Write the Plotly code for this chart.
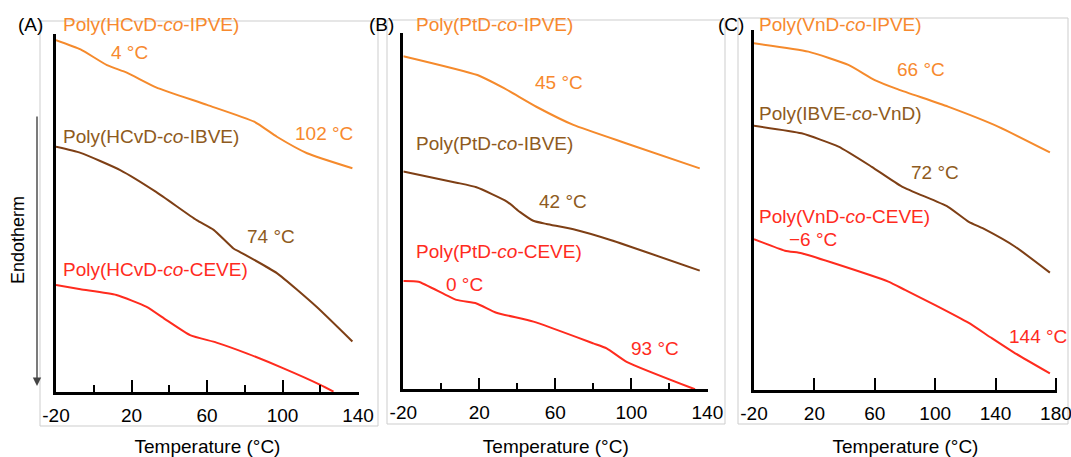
import plotly.graph_objects as go

# ---- DSC heating traces (temperature in °C, heat flow in arbitrary units, endotherm down) ----
# (A) Poly(HCvD-co-...) copolymers
A_IPVE_T = [-20, -7, 7, 17.5, 33, 60, 85, 97, 113, 137]
A_IPVE_HF = [9.83, 9.57, 9.13, 8.92, 8.51, 8.02, 7.55, 7.13, 6.67, 6.25]
A_IBVE_T = [-20, -7, 14, 33, 54.5, 63.5, 74, 77.5, 97, 118, 137]
A_IBVE_HF = [6.85, 6.68, 6.20, 5.59, 4.80, 4.53, 4.01, 3.91, 3.32, 2.38, 1.41]
A_CEVE_T = [-20, -7, 12, 28, 38.5, 51, 65, 81, 100.5, 120, 127]
A_CEVE_HF = [2.99, 2.87, 2.71, 2.38, 2.01, 1.59, 1.38, 1.08, 0.66, 0.20, 0.01]

# (B) Poly(PtD-co-...) copolymers
B_IPVE_T = [-20, 19, 33, 50, 69.5, 97.5, 136]
B_IPVE_HF = [9.35, 8.82, 8.45, 7.93, 7.42, 6.90, 6.20]
B_IBVE_T = [-20, 8, 18.5, 34.5, 41.3, 48.4, 55.4, 69.5, 89, 136]
B_IBVE_HF = [6.11, 5.80, 5.67, 5.27, 4.98, 4.73, 4.64, 4.49, 4.19, 3.33]
B_CEVE_T = [-20, -12, 8, 18.5, 29, 48.5, 80, 87, 97.5, 133.5]
B_CEVE_HF = [3.04, 3.02, 2.51, 2.41, 2.15, 1.90, 1.29, 1.15, 0.77, 0.00]

# (C) Poly(VnD-co-...) copolymers
C_IPVE_T = [-20, 16, 42.5, 60, 75.5, 108.5, 142, 176]
C_IPVE_HF = [9.63, 9.40, 9.03, 8.61, 8.35, 7.87, 7.31, 6.60]
C_IBVE_T = [-20, 11.5, 36, 58, 78, 108.5, 122, 133, 153, 176]
C_IBVE_HF = [7.34, 7.13, 6.76, 6.20, 5.65, 5.09, 4.68, 4.46, 3.98, 3.26]
C_CEVE_T = [-20, 0.5, 11.5, 31.5, 69, 80, 100, 122, 137.5, 153, 176]
C_CEVE_HF = [4.19, 3.87, 3.80, 3.54, 3.01, 2.78, 2.36, 1.87, 1.44, 1.02, 0.46]

# Tick labels
A_TICKS = [-20, 20, 60, 100, 140]
A_MINOR = [0, 40, 80, 120]
B_TICKS = [-20, 20, 60, 100, 140]
B_MINOR = [0, 40, 80, 120]
C_TICKS = [-20, 20, 60, 100, 140, 180]

# Curve names: (text, T, HF) for the lower two, top name sits above the frame
A_TOP = "Poly(HCvD-<i>co</i>-IPVE)"
A_NAMES = [("Poly(HCvD-<i>co</i>-IBVE)", -17.4, 7.15),
           ("Poly(HCvD-<i>co</i>-CEVE)", -17.4, 3.41)]
A_TG = [("4 °C", 8.1, 9.47, "ipve"), ("102 °C", 105.6, 7.21, "ipve"),
        ("74 °C", 80.1, 4.34, "ibve")]
B_TOP = "Poly(PtD-<i>co</i>-IPVE)"
B_NAMES = [("Poly(PtD-<i>co</i>-IBVE)", -14.4, 6.91),
           ("Poly(PtD-<i>co</i>-CEVE)", -14.4, 3.86)]
B_TG = [("45 °C", 48.3, 8.60, "ipve"), ("42 °C", 50.4, 5.27, "ibve"),
        ("0 °C", 1.4, 2.93, "ceve"), ("93 °C", 98.8, 1.15, "ceve")]
C_TOP = "Poly(VnD-<i>co</i>-IPVE)"
C_NAMES = [("Poly(IBVE-<i>co</i>-VnD)", -18.0, 7.69),
           ("Poly(VnD-<i>co</i>-CEVE)", -18.0, 4.81)]
C_TG = [("66 °C", 73.4, 8.89, "ipve"), ("72 °C", 82.6, 6.03, "ibve"),
        ("\u22126 °C", 2.0, 4.19, "ceve"), ("144 °C", 147.5, 1.48, "ceve")]

W, H = 1071, 457
FONT = "Liberation Sans, Arial, Helvetica, sans-serif"
FS = 19

LINE_COL = {"ipve": "#F58A2C", "ibve": "#7E3F15", "ceve": "#FF2B1E"}
TEXT_COL = {"ipve": "#F7892E", "ibve": "#8E5A20", "ceve": "#FF2B1E"}
KEYS = ["ipve", "ibve", "ceve"]


def px_x(p):
    return p / W


def px_y(p):
    return 1 - p / H


fig = go.Figure()

panels = [
    ("x", "y", [(A_IPVE_T, A_IPVE_HF), (A_IBVE_T, A_IBVE_HF), (A_CEVE_T, A_CEVE_HF)],
     A_TOP, 61, A_NAMES, A_TG),
    ("x2", "y2", [(B_IPVE_T, B_IPVE_HF), (B_IBVE_T, B_IBVE_HF), (B_CEVE_T, B_CEVE_HF)],
     B_TOP, 414, B_NAMES, B_TG),
    ("x3", "y3", [(C_IPVE_T, C_IPVE_HF), (C_IBVE_T, C_IBVE_HF), (C_CEVE_T, C_CEVE_HF)],
     C_TOP, 757, C_NAMES, C_TG),
]

annotations = []
for xa, ya, curves, top, top_left, names, tgs in panels:
    for key, (t, hf) in zip(KEYS, curves):
        fig.add_trace(go.Scatter(x=t, y=hf, xaxis=xa, yaxis=ya, mode="lines",
                                 line=dict(color=LINE_COL[key], width=2, shape="spline", smoothing=0.5),
                                 showlegend=False, hoverinfo="skip"))
    annotations.append(dict(text=top, x=px_x(top_left), y=px_y(25), xref="paper", yref="paper",
                            showarrow=False, xanchor="left", yanchor="middle",
                            font=dict(family=FONT, size=FS, color=TEXT_COL["ipve"])))
    for key, (txt, tx, ty) in zip(KEYS[1:], names):
        annotations.append(dict(text=txt, x=tx, y=ty, xref=xa, yref=ya, showarrow=False,
                                xanchor="left", yanchor="middle",
                                font=dict(family=FONT, size=FS, color=TEXT_COL[key])))
    for txt, tx, ty, key in tgs:
        annotations.append(dict(text=txt, x=tx, y=ty, xref=xa, yref=ya, showarrow=False,
                                xanchor="left", yanchor="middle",
                                font=dict(family=FONT, size=FS, color=TEXT_COL[key])))

# Panel letters
for letter, left in [("(A)", 16), ("(B)", 367), ("(C)", 716)]:
    annotations.append(dict(text=letter, x=px_x(left), y=px_y(25), xref="paper", yref="paper",
                            showarrow=False, xanchor="left", yanchor="middle",
                            font=dict(family=FONT, size=FS, color="black")))

# Endotherm direction arrow and label
annotations.append(dict(text="", x=px_x(37), y=px_y(386), xref="paper", yref="paper",
                        ax=0, ay=-271, showarrow=True, arrowhead=2, arrowsize=1.2,
                        arrowwidth=1.4, arrowcolor="#444444"))
annotations.append(dict(text="Endotherm", x=px_x(18), y=px_y(240), xref="paper", yref="paper",
                        showarrow=False, textangle=-90, xanchor="center", yanchor="middle",
                        font=dict(family=FONT, size=18, color="black")))

# Light frames around each panel
shapes = []
for x0, y0, x1, y1 in [(40, 21, 378, 426), (387, 20, 725, 424), (738, 18, 1068, 424)]:
    shapes.append(dict(type="rect", xref="paper", yref="paper",
                       x0=px_x(x0), x1=px_x(x1), y0=px_y(y1), y1=px_y(y0),
                       line=dict(color="#CDCDCD", width=1), fillcolor="rgba(0,0,0,0)", layer="below"))


def xaxis_cfg(domain, rng, ticks, minor, anchor):
    cfg = dict(domain=domain, range=rng, anchor=anchor, showgrid=False, zeroline=False,
               automargin=False,
               showline=True, linecolor="black", linewidth=2.5,
               ticks="inside", ticklen=12, tickwidth=2, tickcolor="black",
               tickvals=ticks, ticktext=[str(v) for v in ticks],
               tickfont=dict(family=FONT, size=FS, color="black"),
               ticklabelstandoff=4, ticklabeloverflow="allow",
               title=dict(text="Temperature (°C)", standoff=20,
                          font=dict(family=FONT, size=FS, color="black")))
    if minor:
        cfg["minor"] = dict(tickvals=minor, ticks="inside", ticklen=7, tickwidth=2,
                            tickcolor="black", showgrid=False)
    return cfg


def yaxis_cfg(domain, anchor):
    return dict(domain=domain, range=[0, 10], anchor=anchor, showgrid=False, zeroline=False,
                automargin=False,
                showline=True, linecolor="black", linewidth=3, ticks="",
                showticklabels=False)


# The x ranges run a hair past the last tick so the end tick mark is drawn.
fig.update_layout(
    width=W, height=H,
    margin=dict(l=0, r=0, t=0, b=0, autoexpand=False),
    paper_bgcolor="white", plot_bgcolor="white",
    showlegend=False,
    xaxis=xaxis_cfg([px_x(56), px_x(359.0)], [-20, 140.5], A_TICKS, A_MINOR, "y"),
    yaxis=yaxis_cfg([px_y(392), px_y(34)], "x"),
    xaxis2=xaxis_cfg([px_x(403.3), px_x(708.3)], [-20, 140.5], B_TICKS, B_MINOR, "y2"),
    yaxis2=yaxis_cfg([px_y(389.3), px_y(33)], "x2"),
    xaxis3=xaxis_cfg([px_x(754), px_x(1057)], [-20, 180.7], C_TICKS, None, "y3"),
    yaxis3=yaxis_cfg([px_y(390), px_y(30)], "x3"),
    annotations=annotations,
    shapes=shapes,
)

fig.write_html("out.html")
